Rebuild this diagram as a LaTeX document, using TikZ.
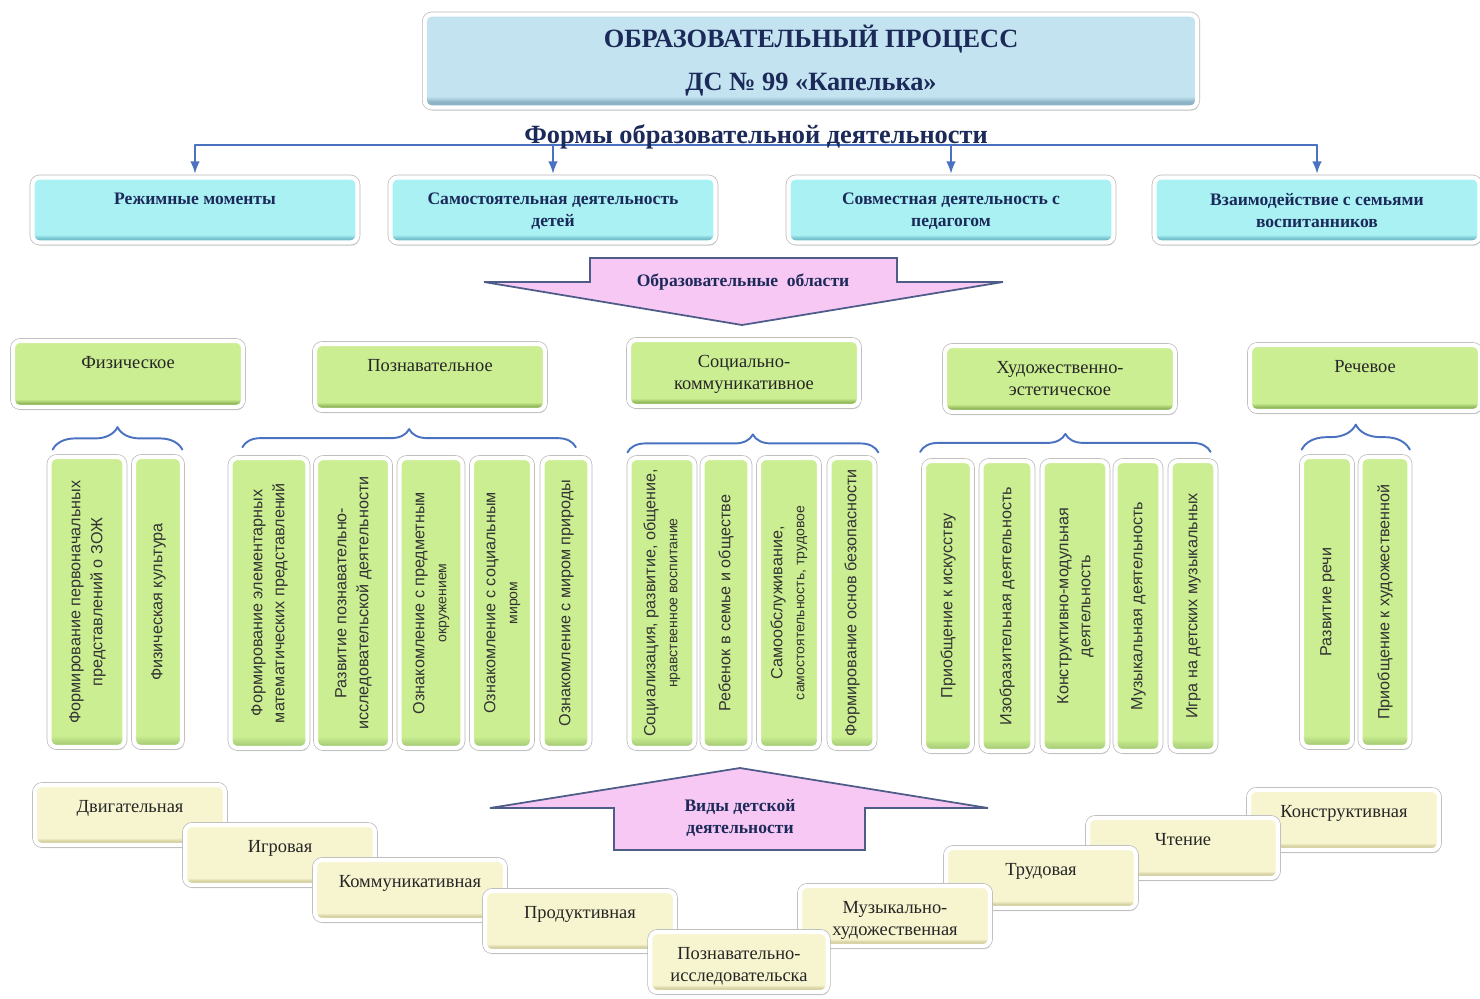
\documentclass[tikz,border=0pt]{standalone}
\usepackage{fontspec}
\setmainfont{Liberation Serif}
\setsansfont{Liberation Sans}
\usetikzlibrary{arrows.meta,shadows,decorations.pathreplacing}

\definecolor{navy}{HTML}{1C2A5A}
\definecolor{lineblue}{HTML}{4A72C0}
\definecolor{topL}{HTML}{C2E3EF}
\definecolor{topD}{HTML}{8DB3C6}
\definecolor{cyL}{HTML}{AAF1F4}
\definecolor{cyD}{HTML}{72C0CB}
\definecolor{grL}{HTML}{CBEE92}
\definecolor{grD}{HTML}{93BA5C}
\definecolor{grM}{HTML}{A9CF78}
\definecolor{ylL}{HTML}{F7F5CF}
\definecolor{ylD}{HTML}{D3CE9E}
\definecolor{pinkF}{HTML}{F7C8F3}
\definecolor{pinkB}{HTML}{4E5C88}

% заливки с тёмной полосой снизу
\pgfdeclareverticalshading{topshade}{100bp}{color(0bp)=(topD); color(25bp)=(topD); color(28bp)=(topD); color(31bp)=(topL); color(100bp)=(topL)}
\pgfdeclareverticalshading{cyshade}{100bp}{color(0bp)=(cyD); color(25bp)=(cyD); color(28bp)=(cyD); color(31bp)=(cyL); color(100bp)=(cyL)}
\pgfdeclareverticalshading{grshade}{100bp}{color(0bp)=(grD); color(25bp)=(grD); color(28bp)=(grD); color(31bp)=(grL); color(100bp)=(grL)}
\pgfdeclareverticalshading{grvshade}{100bp}{color(0bp)=(grM); color(25bp)=(grM); color(25.6bp)=(grM); color(27bp)=(grL); color(100bp)=(grL)}
\pgfdeclareverticalshading{ylshade}{100bp}{color(0bp)=(ylD); color(25bp)=(ylD); color(28bp)=(ylD); color(31bp)=(ylL); color(100bp)=(ylL)}

\newcommand{\vt}[1]{\rotatebox{90}{\begin{tabular}{@{}c@{}}#1\end{tabular}}}
\newcommand{\sm}{\fontsize{8}{9.5}\selectfont}

\tikzset{
  box/.style={rounded corners=4pt, inner sep=0pt,
    drop shadow={shadow xshift=0.8pt, shadow yshift=-1.8pt, opacity=0.3},
    preaction={draw=black!28, line width=3.2pt},
    draw=white, line width=2.4pt, shade},
  ctext/.style={anchor=north, yshift=-6.5pt, align=center, text=navy,
    font=\fontsize{10}{12.5}\selectfont\bfseries},
  gtext/.style={anchor=north, yshift=-6.5pt, align=center, text=black!85,
    font=\fontsize{10.5}{12.6}\selectfont},
  topbox/.style={box, shading=topshade, minimum width=15.45cm, minimum height=1.86cm,
    align=center, text=navy, font=\fontsize{15}{18}\selectfont\bfseries},
  cbox/.style={box, shading=cyshade, minimum width=6.5cm, minimum height=1.3cm,
    label={[ctext]north:{#1}}},
  gbox/.style={box, shading=grshade, minimum width=4.6cm, minimum height=1.32cm,
    label={[gtext]north:{#1}}},
  vbox/.style={box, shading=grvshade, minimum height=5.8cm, text=black!80,
    font=\sffamily\fontsize{9.2}{12.5}\selectfont},
  ybox/.style={box, shading=ylshade, minimum width=3.8cm, minimum height=1.2cm,
    label={[gtext]north:{#1}}},
  bline/.style={draw=lineblue, line width=1pt},
  curly/.style={decorate, decoration={brace, amplitude=#1}, draw=lineblue, line width=1.1pt},
  parrow/.style={fill=pinkF, draw=pinkB, line width=1pt, line join=miter},
  atext/.style={align=center, text=navy, font=\fontsize{10}{12.5}\selectfont\bfseries},
  forms/.style={text=navy, font=\fontsize{15}{18}\selectfont\bfseries}
}

\begin{document}
\begin{tikzpicture}[x=0.02cm, y=-0.02cm, line cap=round, line join=round]
\useasboundingbox (0,0) rectangle (1480,998);

% Заголовок
\node[topbox] (proc) at (811,61) {ОБРАЗОВАТЕЛЬНЫЙ ПРОЦЕСС\\[6.5pt] ДС № 99 «Капелька»};

% Формы образовательной деятельности
\coordinate (bus) at (756,145);
\node[cbox={Режимные моменты}] (rm) at (195,210) {};
\node[cbox={Самостоятельная деятельность\\детей}] (sd) at (553,210) {};
\node[cbox={Совместная деятельность с\\педагогом}] (sp) at (951,210) {};
\node[cbox={Взаимодействие с семьями\\воспитанников}] (vs) at (1317,210) {};

\draw[bline] (rm.north |- bus) -- (vs.north |- bus);
\foreach \b in {rm,sd,sp,vs}
  \draw[bline, -{Latex[length=7pt,width=5.5pt]}, shorten >=1pt] (\b.north |- bus) -- (\b.north);
\node[forms] (formy) at (756,137) {Формы образовательной деятельности};

% Образовательные области
\draw[parrow] (590,258) -- (897,258) -- (897,282) -- (1003,282) -- (742,325)
  -- (484,282) -- (590,282) -- cycle;
\node[atext] (oblasti) at (743,282) {Образовательные~ области};

\node[gbox={Физическое}] (fiz) at (128,374) {};
\node[gbox={Познавательное}] (pozn) at (430,377) {};
\node[gbox={Социально-\\коммуникативное}] (soc) at (744,373) {};
\node[gbox={Художественно-\\эстетическое}] (hud) at (1060,379) {};
\node[gbox={Речевое}] (rech) at (1365,378) {};

% Физическое
\node[vbox, minimum width=1.5cm] (f1) at (87,602) {\vt{Формирование первоначальных\\представлений о ЗОЖ}};
\node[vbox, minimum width=0.96cm] (f2) at (158,602) {\vt{Физическая культура}};

% Познавательное
\node[vbox, minimum width=1.54cm] (p1) at (269,603) {\vt{Формирование элементарных\\математических представлений}};
\node[vbox, minimum width=1.48cm] (p2) at (353,603) {\vt{Развитие познавательно-\\исследовательской деятельности}};
\node[vbox, minimum width=1.26cm] (p3) at (431,603) {\vt{Ознакомление с предметным\\{\sm окружением}}};
\node[vbox, minimum width=1.2cm] (p4) at (502,603) {\vt{Ознакомление с социальным\\{\sm миром}}};
\node[vbox, minimum width=0.94cm] (p5) at (566,603) {\vt{Ознакомление с миром природы}};

% Социально-коммуникативное
\node[vbox, minimum width=1.3cm] (s1) at (662,603) {\vt{Социализация, развитие, общение,\\{\sm нравственное воспитание}}};
\node[vbox, minimum width=0.94cm] (s2) at (726,603) {\vt{Ребенок в семье и обществе}};
\node[vbox, minimum width=1.2cm] (s3) at (789,603) {\vt{Самообслуживание,\\{\sm самостоятельность, трудовое}}};
\node[vbox, minimum width=0.9cm] (s4) at (852,603) {\vt{Формирование основ безопасности}};

% Художественно-эстетическое
\node[vbox, minimum width=0.96cm] (h1) at (948,606) {\vt{Приобщение к искусству}};
\node[vbox, minimum width=1.02cm] (h2) at (1007,606) {\vt{Изобразительная деятельность}};
\node[vbox, minimum width=1.3cm] (h3) at (1075,606) {\vt{Конструктивно-модульная\\деятельность}};
\node[vbox, minimum width=0.9cm] (h4) at (1138,606) {\vt{Музыкальная деятельность}};
\node[vbox, minimum width=0.9cm] (h5) at (1193,606) {\vt{Игра на детских музыкальных}};

% Речевое
\node[vbox, minimum width=1.0cm] (r1) at (1327,602) {\vt{Развитие речи}};
\node[vbox, minimum width=0.98cm] (r2) at (1385,602) {\vt{Приобщение к художественной}};

% Скобки
\draw[curly=0.45cm] ([xshift=3pt,yshift=3pt]f1.north west) -- ([xshift=-1pt,yshift=3pt]f2.north east);
\draw[curly=0.36cm] ([xshift=8pt,yshift=5pt]p1.north west) -- ([xshift=-9pt,yshift=5pt]p5.north east);
\draw[curly=0.36cm] ([xshift=0pt,yshift=2pt]s1.north west) -- ([xshift=1pt,yshift=2pt]s4.north east);
\draw[curly=0.36cm] ([xshift=-1pt,yshift=4pt]h1.north west) -- ([xshift=-4pt,yshift=4pt]h5.north east);
\draw[curly=0.5cm] ([xshift=1pt,yshift=3pt]r1.north west) -- ([xshift=-1pt,yshift=3pt]r2.north east);

% Виды детской деятельности
\draw[parrow] (740,768) -- (988,808) -- (865,808) -- (865,850) -- (614,850)
  -- (614,808) -- (490,808) -- cycle;
\node[atext] (vidy) at (740,818) {Виды детской\\деятельности};

\node[ybox={Двигательная}] (dv) at (130,815) {};
\node[ybox={Игровая}] (ig) at (280,855) {};
\node[ybox={Коммуникативная}] (km) at (410,890) {};
\node[ybox={Продуктивная}] (pr) at (580,921) {};
\node[ybox={Конструктивная}] (ks) at (1344,820) {};
\node[ybox={Чтение}] (ch) at (1183,848) {};
\node[ybox={Трудовая}] (tr) at (1041,878) {};
\node[ybox={Музыкально-\\художественная}] (mh) at (895,916) {};
\node[ybox={Познавательно-\\исследовательска}, minimum width=3.55cm] (pi) at (739,962) {};

\end{tikzpicture}
\end{document}
